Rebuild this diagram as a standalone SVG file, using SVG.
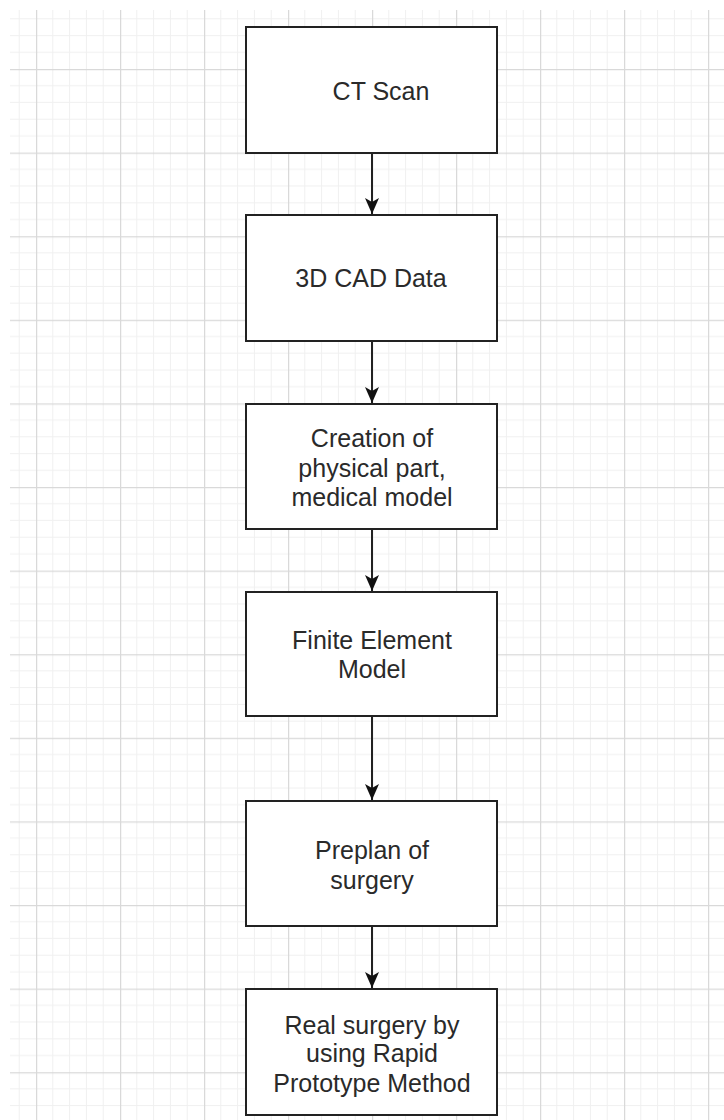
<svg xmlns="http://www.w3.org/2000/svg" width="724" height="1120" viewBox="0 0 724 1120">
<style>
.box{fill:#ffffff;stroke:#222222;stroke-width:2}
.lbl{font-family:"Liberation Sans",Arial,sans-serif;font-size:25px;fill:#2a2a2a;text-anchor:middle}
.edge{stroke:#222222;stroke-width:2;fill:none}
</style>
<defs>
<pattern id="grid" patternUnits="userSpaceOnUse" x="36" y="69" width="84" height="83.6">
<g stroke="#f0f0f0" stroke-width="1">
<line x1="16.8" y1="0" x2="16.8" y2="83.6"/>
<line x1="33.6" y1="0" x2="33.6" y2="83.6"/>
<line x1="50.4" y1="0" x2="50.4" y2="83.6"/>
<line x1="67.2" y1="0" x2="67.2" y2="83.6"/>
<line x1="0" y1="16.72" x2="84" y2="16.72"/>
<line x1="0" y1="33.44" x2="84" y2="33.44"/>
<line x1="0" y1="50.16" x2="84" y2="50.16"/>
<line x1="0" y1="66.88" x2="84" y2="66.88"/>
</g>
<g stroke="#d9d9d9" stroke-width="1.5">
<line x1="0.5" y1="0" x2="0.5" y2="83.6"/>
<line x1="0" y1="0.5" x2="84" y2="0.5"/>
</g>
</pattern>
<marker id="arrow" markerUnits="userSpaceOnUse" markerWidth="16" markerHeight="18" refX="16" refY="7" orient="auto" viewBox="0 0 16 14">
<path d="M0,0 L16,7 L0,14 L4,7 Z" fill="#111111"/>
</marker>
</defs>
<rect x="0" y="0" width="724" height="1120" fill="#ffffff"/>
<rect x="10" y="10" width="714" height="1110" fill="url(#grid)"/>
<g id="connectors">
<line class="edge" x1="372" y1="153" x2="372" y2="214" marker-end="url(#arrow)"/>
<line class="edge" x1="372" y1="341" x2="372" y2="403" marker-end="url(#arrow)"/>
<line class="edge" x1="372" y1="529" x2="372" y2="591" marker-end="url(#arrow)"/>
<line class="edge" x1="372" y1="716" x2="372" y2="800" marker-end="url(#arrow)"/>
<line class="edge" x1="372" y1="926" x2="372" y2="988" marker-end="url(#arrow)"/>
</g>
<g id="ct-scan">
<rect class="box" x="246" y="27" width="251" height="126"/>
<text class="lbl" x="381" y="100">CT Scan</text>
</g>
<g id="cad-data">
<rect class="box" x="246" y="215" width="251" height="126"/>
<text class="lbl" x="371" y="287">3D CAD Data</text>
</g>
<g id="creation">
<rect class="box" x="246" y="404" width="251" height="125"/>
<text class="lbl" x="372" y="447">Creation of</text>
<text class="lbl" x="372" y="477">physical part,</text>
<text class="lbl" x="372" y="506">medical model</text>
</g>
<g id="fem">
<rect class="box" x="246" y="592" width="251" height="124"/>
<text class="lbl" x="372" y="649">Finite Element</text>
<text class="lbl" x="372" y="678">Model</text>
</g>
<g id="preplan">
<rect class="box" x="246" y="801" width="251" height="125"/>
<text class="lbl" x="372" y="859">Preplan of</text>
<text class="lbl" x="372" y="889">surgery</text>
</g>
<g id="real-surgery">
<rect class="box" x="246" y="989" width="251" height="126"/>
<text class="lbl" x="372" y="1034">Real surgery by</text>
<text class="lbl" x="372" y="1062">using Rapid</text>
<text class="lbl" x="372" y="1092">Prototype Method</text>
</g>
</svg>
